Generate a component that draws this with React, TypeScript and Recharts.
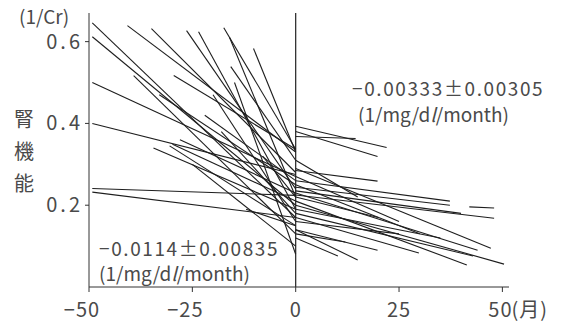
import React from 'react';
import { LineChart, Line, XAxis, YAxis, ReferenceLine } from 'recharts';

// 導入前 (month < 0): start month, start value, value at month 0
const preStartMonth = [-49.2, -49.2, -49.2, -49.2, -49.2, -49.2, -40.7, -34.9, -26.4, -23.5, -17.4, -10.2, -29.5, -39.2, -15.7, -29.8, -34.4, -16.0, -20.0, -14.8, -12.0, -30.5, -22.0, -25.0, -18.0, -8.0, -28.0, -33.0];
const preStartValue = [0.646, 0.612, 0.5, 0.4, 0.241, 0.232, 0.639, 0.632, 0.627, 0.624, 0.634, 0.583, 0.517, 0.517, 0.539, 0.349, 0.34, 0.61, 0.47, 0.5, 0.19, 0.345, 0.42, 0.3, 0.38, 0.32, 0.36, 0.47];
const preEndValue = [0.17, 0.2, 0.27, 0.275, 0.224, 0.17, 0.33, 0.28, 0.24, 0.19, 0.337, 0.33, 0.337, 0.13, 0.31, 0.21, 0.19, 0.22, 0.16, 0.08, 0.15, 0.15, 0.26, 0.1, 0.18, 0.22, 0.23, 0.25];

// 導入後 (month > 0): value at month 0, end month, end value
const postStartValue = [0.393, 0.38, 0.368, 0.285, 0.26, 0.244, 0.235, 0.225, 0.29, 0.2, 0.21, 0.17, 0.14, 0.14, 0.12, 0.18, 0.27, 0.25, 0.22, 0.19, 0.16, 0.31, 0.23, 0.13];
const postEndMonth = [22.0, 19.8, 14.5, 19.8, 37.3, 37.3, 40.0, 48.0, 47.2, 50.4, 41.4, 29.8, 19.8, 15.0, 10.2, 42.9, 25.0, 30.0, 20.0, 35.0, 25.0, 15.0, 44.0, 12.0];
const postEndValue = [0.341, 0.319, 0.363, 0.259, 0.21, 0.2, 0.18, 0.168, 0.095, 0.056, 0.054, 0.083, 0.09, 0.066, 0.076, 0.076, 0.16, 0.13, 0.17, 0.12, 0.13, 0.22, 0.09, 0.11];

// short separate piece on the right
const lateMonth = [42, 48];
const lateValue = [0.196, 0.193];

const xTicks = [-50, -25, 0, 25, 50];
const yTicks = [0.2, 0.4, 0.6];

const segments = [
  ...preStartMonth.map((m, i) => [
    { x: m, y: preStartValue[i] },
    { x: 0, y: preEndValue[i] },
  ]),
  ...postEndMonth.map((m, i) => [
    { x: 0, y: postStartValue[i] },
    { x: m, y: postEndValue[i] },
  ]),
  lateMonth.map((m, i) => ({ x: m, y: lateValue[i] })),
];

const FONT = '"Noto Sans CJK JP", "Noto Sans", sans-serif';
const TEXT = '#4a4a4a';

const XTick = (props: any) => {
  const { x, y, payload } = props;
  const v = payload.value;
  const style = { fontFamily: FONT, fontSize: 20, fill: TEXT, letterSpacing: 1 };
  if (v < 0) {
    return (
      <text x={x - 7} y={y} dy={23} textAnchor="middle" style={style}>
        {'\u2212' + Math.abs(v)}
      </text>
    );
  }
  if (v === 50) {
    return (
      <g>
        <text x={x - 2} y={y} dy={23} textAnchor="middle" style={style}>50</text>
        <text x={x + 9} y={y} dy={23} textAnchor="start" style={style}>(月)</text>
      </g>
    );
  }
  return (
    <text x={x} y={y} dy={23} textAnchor="middle" style={style}>
      {v}
    </text>
  );
};

const YTick = (props: any) => {
  const { x, y, payload } = props;
  return (
    <text
      x={x + 2}
      y={y}
      dy={7}
      textAnchor="end"
      style={{ fontFamily: FONT, fontSize: 20, fill: TEXT, letterSpacing: 3 }}
    >
      {payload.value.toFixed(1)}
    </text>
  );
};

const label: React.CSSProperties = {
  position: 'absolute',
  fontFamily: FONT,
  fontSize: 19,
  color: TEXT,
  lineHeight: '20px',
  whiteSpace: 'nowrap',
};

const App = () => {
  return (
    <div style={{ position: 'absolute', left: 0, top: 0, width: 562, height: 323, background: '#fff' }}>
      <LineChart width={562} height={323} margin={{ top: 13, right: 53, bottom: 6, left: 29 }}>
        <XAxis
          type="number"
          dataKey="x"
          domain={[-50, 51.6]}
          ticks={xTicks}
          allowDataOverflow
          stroke="#333"
          tickSize={5}
          tickMargin={2}
          tick={<XTick />}
        />
        <YAxis
          type="number"
          dataKey="y"
          domain={[0, 0.67]}
          ticks={yTicks}
          allowDataOverflow
          stroke="#333"
          tickSize={4}
          tickMargin={4}
          tick={<YTick />}
        />
        <ReferenceLine x={0} stroke="#222" strokeWidth={1.2} />
        {segments.map((seg, i) => (
          <Line
            key={i}
            data={seg}
            dataKey="y"
            type="linear"
            stroke="#1e1e1e"
            strokeWidth={1.1}
            dot={false}
            activeDot={false}
            isAnimationActive={false}
          />
        ))}
      </LineChart>

      <div style={{ ...label, left: 19, top: 6 }}>(1/Cr)</div>
      <div style={{ ...label, left: 14, top: 109, fontSize: 20 }}>腎</div>
      <div style={{ ...label, left: 14, top: 141, fontSize: 20 }}>機</div>
      <div style={{ ...label, left: 14, top: 173, fontSize: 20 }}>能</div>

      <div style={{ ...label, left: 352, top: 78, letterSpacing: 1.6 }}>−0.00333±0.00305</div>
      <div style={{ ...label, left: 358, top: 104 }}>
        (1/mg/d<i>l</i>/month)
      </div>

      <div style={{ ...label, left: 99, top: 238, letterSpacing: 1.6 }}>−0.0114±0.00835</div>
      <div style={{ ...label, left: 99, top: 263 }}>
        (1/mg/d<i>l</i>/month)
      </div>
    </div>
  );
};

export default App;
